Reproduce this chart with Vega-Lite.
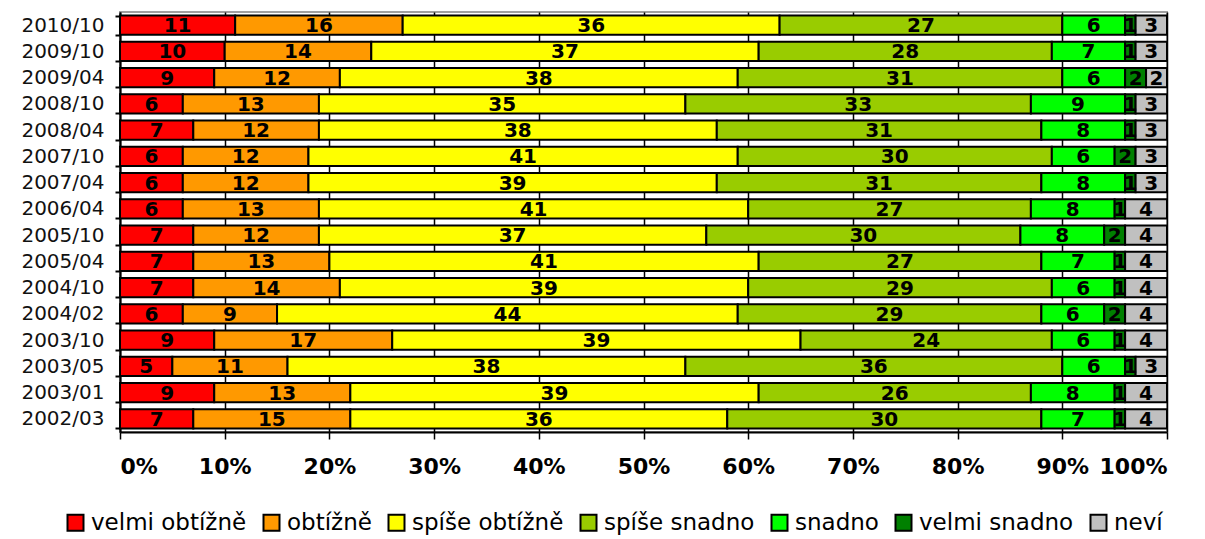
{
  "$schema": "https://vega.github.io/schema/vega-lite/v6.json",
  "width": 1047,
  "height": 420,
  "autosize": {"type": "none"},
  "padding": {"left": 120, "top": 12, "right": 38, "bottom": 107},
  "background": "white",
  "config": {"view": {"stroke": "#A0A0A0", "strokeWidth": 2}, "font": "DejaVu Sans"},
  "data": {"values": [
    {"period":"2010/10","answer":"velmi obtížně","k":1,"value":11},{"period":"2010/10","answer":"obtížně","k":2,"value":16},{"period":"2010/10","answer":"spíše obtížně","k":3,"value":36},{"period":"2010/10","answer":"spíše snadno","k":4,"value":27},{"period":"2010/10","answer":"snadno","k":5,"value":6},{"period":"2010/10","answer":"velmi snadno","k":6,"value":1},{"period":"2010/10","answer":"neví","k":7,"value":3},
    {"period":"2009/10","answer":"velmi obtížně","k":1,"value":10},{"period":"2009/10","answer":"obtížně","k":2,"value":14},{"period":"2009/10","answer":"spíše obtížně","k":3,"value":37},{"period":"2009/10","answer":"spíše snadno","k":4,"value":28},{"period":"2009/10","answer":"snadno","k":5,"value":7},{"period":"2009/10","answer":"velmi snadno","k":6,"value":1},{"period":"2009/10","answer":"neví","k":7,"value":3},
    {"period":"2009/04","answer":"velmi obtížně","k":1,"value":9},{"period":"2009/04","answer":"obtížně","k":2,"value":12},{"period":"2009/04","answer":"spíše obtížně","k":3,"value":38},{"period":"2009/04","answer":"spíše snadno","k":4,"value":31},{"period":"2009/04","answer":"snadno","k":5,"value":6},{"period":"2009/04","answer":"velmi snadno","k":6,"value":2},{"period":"2009/04","answer":"neví","k":7,"value":2},
    {"period":"2008/10","answer":"velmi obtížně","k":1,"value":6},{"period":"2008/10","answer":"obtížně","k":2,"value":13},{"period":"2008/10","answer":"spíše obtížně","k":3,"value":35},{"period":"2008/10","answer":"spíše snadno","k":4,"value":33},{"period":"2008/10","answer":"snadno","k":5,"value":9},{"period":"2008/10","answer":"velmi snadno","k":6,"value":1},{"period":"2008/10","answer":"neví","k":7,"value":3},
    {"period":"2008/04","answer":"velmi obtížně","k":1,"value":7},{"period":"2008/04","answer":"obtížně","k":2,"value":12},{"period":"2008/04","answer":"spíše obtížně","k":3,"value":38},{"period":"2008/04","answer":"spíše snadno","k":4,"value":31},{"period":"2008/04","answer":"snadno","k":5,"value":8},{"period":"2008/04","answer":"velmi snadno","k":6,"value":1},{"period":"2008/04","answer":"neví","k":7,"value":3},
    {"period":"2007/10","answer":"velmi obtížně","k":1,"value":6},{"period":"2007/10","answer":"obtížně","k":2,"value":12},{"period":"2007/10","answer":"spíše obtížně","k":3,"value":41},{"period":"2007/10","answer":"spíše snadno","k":4,"value":30},{"period":"2007/10","answer":"snadno","k":5,"value":6},{"period":"2007/10","answer":"velmi snadno","k":6,"value":2},{"period":"2007/10","answer":"neví","k":7,"value":3},
    {"period":"2007/04","answer":"velmi obtížně","k":1,"value":6},{"period":"2007/04","answer":"obtížně","k":2,"value":12},{"period":"2007/04","answer":"spíše obtížně","k":3,"value":39},{"period":"2007/04","answer":"spíše snadno","k":4,"value":31},{"period":"2007/04","answer":"snadno","k":5,"value":8},{"period":"2007/04","answer":"velmi snadno","k":6,"value":1},{"period":"2007/04","answer":"neví","k":7,"value":3},
    {"period":"2006/04","answer":"velmi obtížně","k":1,"value":6},{"period":"2006/04","answer":"obtížně","k":2,"value":13},{"period":"2006/04","answer":"spíše obtížně","k":3,"value":41},{"period":"2006/04","answer":"spíše snadno","k":4,"value":27},{"period":"2006/04","answer":"snadno","k":5,"value":8},{"period":"2006/04","answer":"velmi snadno","k":6,"value":1},{"period":"2006/04","answer":"neví","k":7,"value":4},
    {"period":"2005/10","answer":"velmi obtížně","k":1,"value":7},{"period":"2005/10","answer":"obtížně","k":2,"value":12},{"period":"2005/10","answer":"spíše obtížně","k":3,"value":37},{"period":"2005/10","answer":"spíše snadno","k":4,"value":30},{"period":"2005/10","answer":"snadno","k":5,"value":8},{"period":"2005/10","answer":"velmi snadno","k":6,"value":2},{"period":"2005/10","answer":"neví","k":7,"value":4},
    {"period":"2005/04","answer":"velmi obtížně","k":1,"value":7},{"period":"2005/04","answer":"obtížně","k":2,"value":13},{"period":"2005/04","answer":"spíše obtížně","k":3,"value":41},{"period":"2005/04","answer":"spíše snadno","k":4,"value":27},{"period":"2005/04","answer":"snadno","k":5,"value":7},{"period":"2005/04","answer":"velmi snadno","k":6,"value":1},{"period":"2005/04","answer":"neví","k":7,"value":4},
    {"period":"2004/10","answer":"velmi obtížně","k":1,"value":7},{"period":"2004/10","answer":"obtížně","k":2,"value":14},{"period":"2004/10","answer":"spíše obtížně","k":3,"value":39},{"period":"2004/10","answer":"spíše snadno","k":4,"value":29},{"period":"2004/10","answer":"snadno","k":5,"value":6},{"period":"2004/10","answer":"velmi snadno","k":6,"value":1},{"period":"2004/10","answer":"neví","k":7,"value":4},
    {"period":"2004/02","answer":"velmi obtížně","k":1,"value":6},{"period":"2004/02","answer":"obtížně","k":2,"value":9},{"period":"2004/02","answer":"spíše obtížně","k":3,"value":44},{"period":"2004/02","answer":"spíše snadno","k":4,"value":29},{"period":"2004/02","answer":"snadno","k":5,"value":6},{"period":"2004/02","answer":"velmi snadno","k":6,"value":2},{"period":"2004/02","answer":"neví","k":7,"value":4},
    {"period":"2003/10","answer":"velmi obtížně","k":1,"value":9},{"period":"2003/10","answer":"obtížně","k":2,"value":17},{"period":"2003/10","answer":"spíše obtížně","k":3,"value":39},{"period":"2003/10","answer":"spíše snadno","k":4,"value":24},{"period":"2003/10","answer":"snadno","k":5,"value":6},{"period":"2003/10","answer":"velmi snadno","k":6,"value":1},{"period":"2003/10","answer":"neví","k":7,"value":4},
    {"period":"2003/05","answer":"velmi obtížně","k":1,"value":5},{"period":"2003/05","answer":"obtížně","k":2,"value":11},{"period":"2003/05","answer":"spíše obtížně","k":3,"value":38},{"period":"2003/05","answer":"spíše snadno","k":4,"value":36},{"period":"2003/05","answer":"snadno","k":5,"value":6},{"period":"2003/05","answer":"velmi snadno","k":6,"value":1},{"period":"2003/05","answer":"neví","k":7,"value":3},
    {"period":"2003/01","answer":"velmi obtížně","k":1,"value":9},{"period":"2003/01","answer":"obtížně","k":2,"value":13},{"period":"2003/01","answer":"spíše obtížně","k":3,"value":39},{"period":"2003/01","answer":"spíše snadno","k":4,"value":26},{"period":"2003/01","answer":"snadno","k":5,"value":8},{"period":"2003/01","answer":"velmi snadno","k":6,"value":1},{"period":"2003/01","answer":"neví","k":7,"value":4},
    {"period":"2002/03","answer":"velmi obtížně","k":1,"value":7},{"period":"2002/03","answer":"obtížně","k":2,"value":15},{"period":"2002/03","answer":"spíše obtížně","k":3,"value":36},{"period":"2002/03","answer":"spíše snadno","k":4,"value":30},{"period":"2002/03","answer":"snadno","k":5,"value":7},{"period":"2002/03","answer":"velmi snadno","k":6,"value":1},{"period":"2002/03","answer":"neví","k":7,"value":4}
  ]},
  "transform": [
    {"stack": "value", "groupby": ["period"], "sort": [{"field": "k", "order": "ascending"}], "as": ["v0", "v1"]},
    {"calculate": "(datum.v0 + datum.v1) / 2", "as": "mid"}
  ],
  "encoding": {
    "y": {"field": "period", "type": "nominal", "sort": "descending",
      "scale": {"paddingInner": 0.27, "paddingOuter": 0.135},
      "axis": {"title": null, "labelFont": "DejaVu Sans", "labelFontSize": 20, "labelColor": "#111111", "labelPadding": 11,
        "domainColor": "black", "domainWidth": 2, "tickColor": "black", "tickWidth": 2, "tickSize": 5, "tickBand": "extent"}}
  },
  "layer": [
    {
      "mark": {"type": "bar", "stroke": "black", "strokeWidth": 2},
      "encoding": {
        "x": {"field": "v0", "type": "quantitative", "scale": {"domain": [0, 100], "nice": false},
          "axis": {"title": null, "values": [0,10,20,30,40,50,60,70,80,90,100], "labelExpr": "datum.value + '%'",
            "labelFont": "DejaVu Sans", "labelFontWeight": "bold", "labelFontSize": 22, "labelColor": "black", "labelPadding": 17,
            "grid": true, "gridColor": "black", "gridWidth": 1.5, "domainColor": "black", "domainWidth": 2,
            "tickColor": "black", "tickWidth": 1.5, "tickSize": 7}},
        "x2": {"field": "v1"},
        "color": {"field": "answer", "type": "nominal",
          "scale": {"domain": ["velmi obtížně","obtížně","spíše obtížně","spíše snadno","snadno","velmi snadno","neví"],
            "range": ["#FF0000","#FF9900","#FFFF00","#99CC00","#00FF00","#008000","#C0C0C0"]},
          "legend": {"title": null, "orient": "none", "direction": "horizontal", "legendX": -56, "legendY": 499,
            "symbolType": "square", "symbolSize": 256, "symbolStrokeColor": "black", "symbolStrokeWidth": 2,
            "symbolOpacity": 1, "labelFont": "DejaVu Sans", "labelFontSize": 23, "labelColor": "black", "labelOffset": 4, "columnPadding": 12}},
        "order": {"field": "k"}
      }
    },
    {
      "mark": {"type": "text", "fontWeight": "bold", "fontSize": 20, "font": "DejaVu Sans", "color": "black", "baseline": "middle", "dy": 1},
      "encoding": {
        "x": {"field": "mid", "type": "quantitative"},
        "text": {"field": "value", "type": "quantitative"}
      }
    }
  ]
}
